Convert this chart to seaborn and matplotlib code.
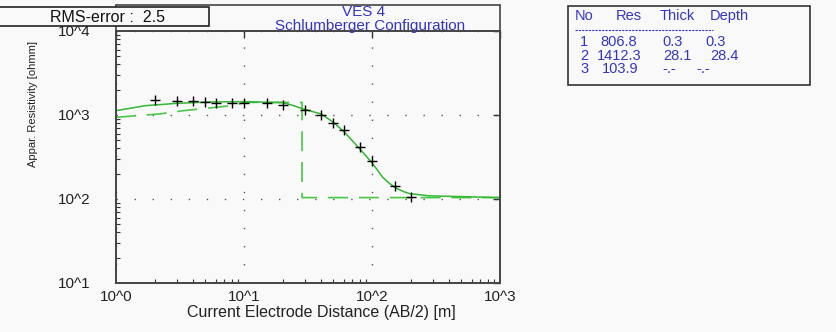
import matplotlib
matplotlib.use("Agg")
import matplotlib.pyplot as plt
import seaborn as sns
import pandas as pd

# ---- data ----
ab2_obs = [2, 3, 4, 5, 6, 8, 10, 15, 20, 30, 40, 50, 60, 80, 100, 150, 200]
rho_obs = [1510, 1482, 1456, 1430, 1403, 1393, 1393, 1378, 1318, 1149, 991, 812, 666, 414, 282, 142, 106]

ab2_fit = [1, 1.7, 3, 5.4, 10.4, 20, 23, 29, 40, 50, 61, 78, 99, 110, 121, 137, 154, 175, 196, 280, 1000]
rho_fit = [1127, 1292, 1377, 1430, 1442, 1403, 1330, 1180, 1030, 818, 624, 414, 275, 222, 182, 153, 135, 123, 116, 109, 104]

ab2_mod = [1, 2.2, 3.4, 6.8, 8.5, 10, 28.4, 28.4, 1000]
rho_mod = [939, 1030, 1128, 1259, 1310, 1412.3, 1412.3, 103.9, 103.9]

x_ticks = [1, 10, 100, 1000]
x_labels = ["10^0", "10^1", "10^2", "10^3"]
y_ticks = [10, 100, 1000, 10000]
y_labels = ["10^1", "10^2", "10^3", "10^4"]

title1 = "VES 4"
title2 = "Schlumberger Configuration"
rms_text = "RMS-error :  2.5"
table_cols = ["No", "Res", "Thick", "Depth"]
layer_no = ["1", "2", "3"]
layer_res = ["806.8", "1412.3", "103.9"]
layer_thick = ["0.3", "28.1", "-.-"]
layer_depth = ["0.3", "28.4", "-.-"]

sns.set_style("white")
plt.rcParams["font.family"] = ["Liberation Sans", "DejaVu Sans"]

W, H = 837, 332
fig = plt.figure(figsize=(W / 100, H / 100), dpi=100)
bg = "#f9f9f9"
fig.patch.set_facecolor(bg)

L, R, T, B = 116, 500, 31, 283
ax = fig.add_axes([L / W, 1 - B / H, (R - L) / W, (B - T) / H])
ax.set_facecolor(bg)

df_fit = pd.DataFrame({"x": ab2_fit, "y": rho_fit})
df_mod = pd.DataFrame({"x": ab2_mod, "y": rho_mod})
df_obs = pd.DataFrame({"x": ab2_obs, "y": rho_obs})

sns.lineplot(data=df_mod, x="x", y="y", ax=ax, sort=False, color="#48c848",
             lw=1.2, estimator=None)
mod_line = ax.lines[-1]
mod_line.set_linestyle((0, (12, 6.5)))
sns.lineplot(data=df_fit, x="x", y="y", ax=ax, sort=False, color="#30b830",
             lw=1.1, estimator=None)
sns.scatterplot(data=df_obs, x="x", y="y", ax=ax, marker="+", s=60,
                color="black", linewidth=1.0, zorder=5)

ax.set_xscale("log")
ax.set_yscale("log")
ax.set_xlim(1, 1000)
ax.set_ylim(10, 10000)
ax.set_xticks(x_ticks, labels=x_labels)
ax.set_yticks(y_ticks, labels=y_labels)

ax.grid(True, which="major", color="#555555", linestyle=(0, (1, 12)), linewidth=1.0)
ax.tick_params(which="major", direction="in", length=5, width=1, color="#333333",
               top=True, right=True, labelsize=11, labelcolor="#222222")
ax.tick_params(which="minor", direction="in", length=3, width=0.8, color="#333333",
               top=False, right=False, left=True, bottom=True)
ax.tick_params(axis="y", which="major", pad=18)
ax.tick_params(axis="x", which="major", pad=5)
for s in ax.spines.values():
    s.set_color("#444444")
    s.set_linewidth(1.4)

ax.set_xlabel("Current Electrode Distance (AB/2) [m]", fontsize=11.5, color="#222222")
ax.xaxis.set_label_coords((321 - L) / (R - L), -(313 - B) / (B - T), transform=ax.transAxes)
ax.xaxis.label.set_va("center")
ax.set_ylabel("Appar. Resistivity [ohmm]", fontsize=8, color="#222222")
ax.yaxis.set_label_coords(-(L - 33) / (R - L), 1 - (104 - T) / (B - T))
ax.yaxis.label.set_va("center")

# title box
fig.add_artist(plt.Line2D([L / W, R / W], [1 - 5 / H, 1 - 5 / H], color="#444444", lw=1.2))
fig.add_artist(plt.Line2D([L / W, L / W], [1 - 5 / H, 1 - T / H], color="#444444", lw=1.2))
fig.add_artist(plt.Line2D([R / W, R / W], [1 - 5 / H, 1 - T / H], color="#444444", lw=1.2))
blue = "#3535c0"
fig.text(364 / W, 1 - 12.5 / H, title1, ha="center", va="center", fontsize=11, color=blue)
fig.text(370 / W, 1 - 26 / H, title2, ha="center", va="center", fontsize=11, color=blue)

# RMS box
fig.add_artist(plt.Rectangle((-2 / W, 1 - 26 / H), 211 / W, 19 / H, transform=fig.transFigure,
                             facecolor=bg, edgecolor="#222222", lw=1.2, zorder=10))
fig.text(108 / W, 1 - 18 / H, rms_text, ha="center", va="center", fontsize=11.5,
         color="#111111", zorder=11)

# layer table
fig.add_artist(plt.Rectangle((568 / W, 1 - 85 / H), 242 / W, 79 / H, transform=fig.transFigure,
                             facecolor=bg, edgecolor="#333333", lw=1.2))
fs = 10.5
hdr_x = [575, 616, 660, 710]
for txt, x in zip(table_cols, hdr_x):
    fig.text(x / W, 1 - 16 / H, txt, ha="left", va="center", fontsize=fs, color=blue)
fig.add_artist(plt.Line2D([575 / W, 713 / W], [1 - 30 / H, 1 - 30 / H], color=blue,
                          lw=0.8, linestyle=(0, (2, 1))))
res_x = [600, 597, 602]
thick_x = [662, 663, 662]
depth_x = [705, 710, 696]
for i in range(len(layer_no)):
    y = 1 - (42.5 + 13.3 * i) / H
    fig.text(580 / W, y, layer_no[i], ha="left", va="center", fontsize=fs, color=blue)
    fig.text(res_x[i] / W, y, layer_res[i], ha="left", va="center", fontsize=fs, color=blue)
    fig.text(thick_x[i] / W, y, layer_thick[i], ha="left", va="center", fontsize=fs, color=blue)
    fig.text(depth_x[i] / W, y, layer_depth[i], ha="left", va="center", fontsize=fs, color=blue)

fig.savefig("out.png", dpi=100, facecolor=bg)
